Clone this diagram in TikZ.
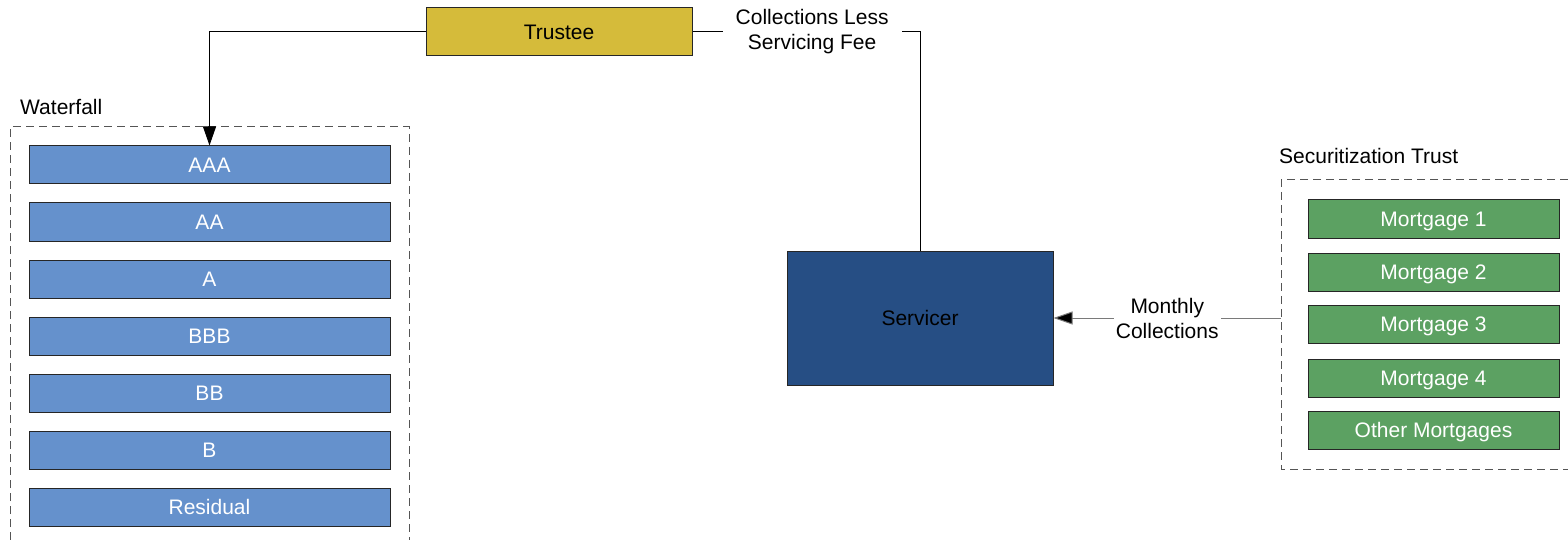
\documentclass[tikz,border=0pt]{standalone}
\usepackage{fontspec}
\setmainfont{Liberation Sans}
\usetikzlibrary{arrows.meta}

\definecolor{trusteegold}{HTML}{D5BB3A}
\definecolor{servicerblue}{HTML}{264E84}
\definecolor{tranchblue}{HTML}{6591CC}
\definecolor{mortgreen}{HTML}{5CA162}
\definecolor{groupdash}{HTML}{555555}
\definecolor{linkgrey}{HTML}{7A7A7A}

\tikzset{
  every node/.style={font=\fontsize{21}{25}\selectfont},
  box/.style={draw=black!85, line width=1pt, inner sep=0pt, align=center,
              text height=16pt, text depth=1.5pt},
  tranche/.style={box, fill=tranchblue, text=white, minimum width=361pt, minimum height=38pt},
  mortgage/.style={box, fill=mortgreen, text=white, minimum width=251pt, minimum height=38pt},
  groupbox/.style={draw=groupdash, line width=1pt, dash pattern=on 8pt off 5pt},
  caption/.style={anchor=west, inner sep=0pt},
  link/.style={draw=black, line width=1pt},
  tip/.style={-{Triangle[length=19pt,width=13pt]}},
  lbl/.style={fill=white, align=center, inner ysep=2pt}
}

\begin{document}
\begin{tikzpicture}[x=1pt, y=-1pt]
  \useasboundingbox (0,0) rectangle (1568,540);

  % group outlines and their captions
  \draw[groupbox] (10,540) -- (10,127) -- (409,127) -- (409,540);
  \node[caption] (wflabel) at (20,107) {Waterfall};
  \draw[groupbox] (1568,180) -- (1281,180) -- (1281,469) -- (1568,469);
  \node[caption] (stlabel) at (1279,156) {Securitization Trust};

  % main parties
  \node[box, fill=trusteegold, minimum width=266pt, minimum height=48pt] (trustee) at (559,32) {Trustee};
  \node[box, fill=servicerblue, minimum width=266pt, minimum height=134pt] (servicer) at (920,318) {Servicer};

  % waterfall tranches
  \node[tranche] (aaa) at (209.5,165) {AAA};
  \node[tranche] (aa)  at (209.5,222) {AA};
  \node[tranche] (a)   at (209.5,279) {A};
  \node[tranche] (bbb) at (209.5,336) {BBB};
  \node[tranche] (bb)  at (209.5,393) {BB};
  \node[tranche] (b)   at (209.5,450) {B};
  \node[tranche] (res) at (209.5,507) {Residual};

  % mortgage pool
  \node[mortgage] (m1) at (1433.5,219) {Mortgage 1};
  \node[mortgage] (m2) at (1433.5,272) {Mortgage 2};
  \node[mortgage] (m3) at (1433.5,324) {Mortgage 3};
  \node[mortgage] (m4) at (1433.5,378) {Mortgage 4};
  \node[mortgage] (mo) at (1433.5,430) {Other Mortgages};

  \coordinate (poolout) at (1281,318);

  % cash flows
  \draw[link, tip] (trustee.west) -| (aaa.north);
  \draw[link] (trustee.east) -| (servicer.north)
    node[lbl, inner xsep=13pt, pos=0.263] (fee) {Collections Less\\Servicing Fee};
  \draw[link, draw=linkgrey, -{Triangle[length=19pt,width=13pt,fill=black]}] (poolout) -- (servicer.east)
    node[lbl, inner xsep=2pt, midway] (monthly) {Monthly\\Collections};
\end{tikzpicture}
\end{document}
